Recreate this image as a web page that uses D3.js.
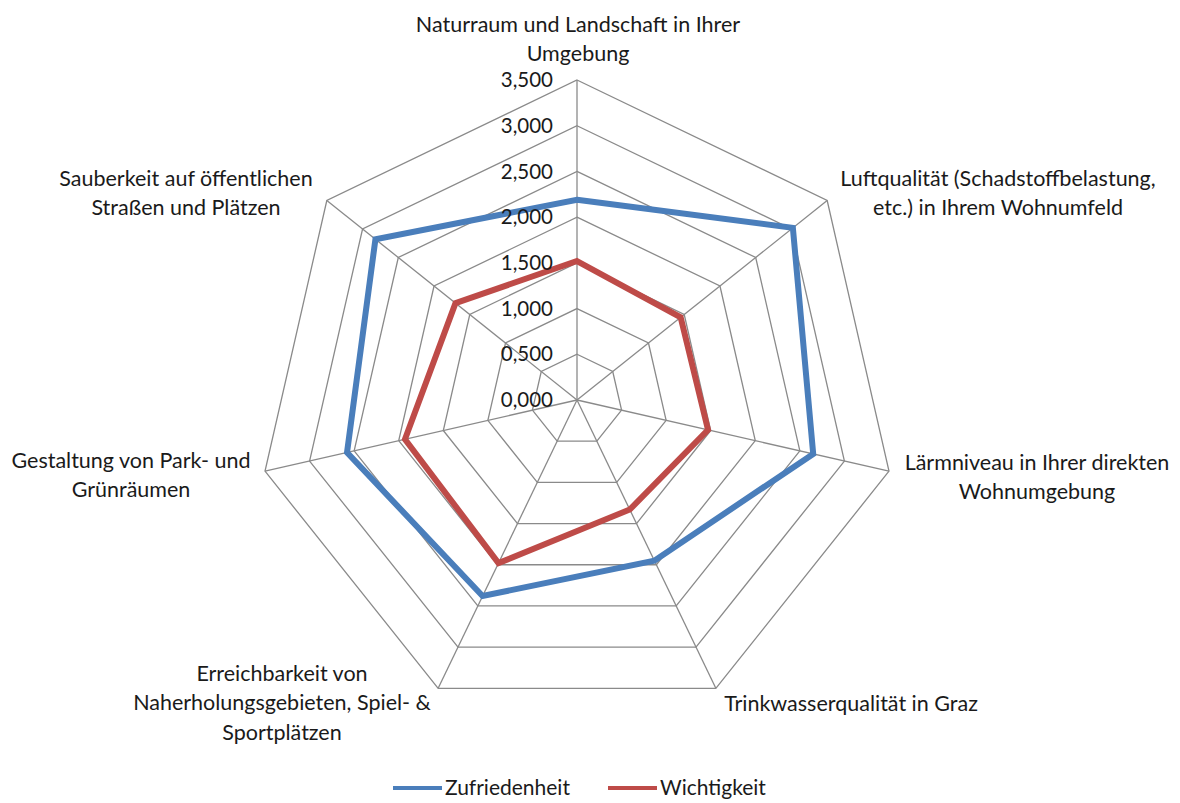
<!DOCTYPE html>
<html>
<head>
<meta charset="utf-8">
<script src="https://cdn.jsdelivr.net/npm/d3@7"></script>
<style>
  html, body { margin: 0; padding: 0; background: #fff; }
  svg text { font-family: Lato, "Open Sans", sans-serif; fill: #1a1a1a; }
</style>
</head>
<body>
<svg id="chart" width="1180" height="803"></svg>
<script>
const categories = [
  ["Naturraum und Landschaft in Ihrer", "Umgebung"],
  ["Luftqualität (Schadstoffbelastung,", "etc.) in Ihrem Wohnumfeld"],
  ["Lärmniveau in Ihrer direkten", "Wohnumgebung"],
  ["Trinkwasserqualität in Graz"],
  ["Erreichbarkeit von", "Naherholungsgebieten, Spiel- &", "Sportplätzen"],
  ["Gestaltung von Park- und", "Grünräumen"],
  ["Sauberkeit auf öffentlichen", "Straßen und Plätzen"]
];
const seriesNames = ["Zufriedenheit", "Wichtigkeit"];
const zufriedenheit = [2.19, 3.02, 2.65, 1.95, 2.38, 2.58, 2.82];
const wichtigkeit   = [1.52, 1.45, 1.47, 1.33, 1.98, 1.93, 1.70];
const tickValues = [0, 0.5, 1, 1.5, 2, 2.5, 3, 3.5];
const tickLabels = ["0,000", "0,500", "1,000", "1,500", "2,000", "2,500", "3,000", "3,500"];
const colors = ["#4a7ebb", "#be4b48"];

const svg = d3.select("#chart");
const cx = 577, cy = 400, R = 320;
const r = d3.scaleLinear().domain([0, 3.5]).range([0, R]);
const n = categories.length;
const angle = d3.scaleLinear().domain([0, n]).range([0, 2 * Math.PI]);
const pt = (i, v) => [cx + r(v) * Math.sin(angle(i)), cy - r(v) * Math.cos(angle(i))];

const g = svg.append("g");
// grid rings
tickValues.slice(1).forEach(t => {
  const pts = d3.range(n).map(i => pt(i, t));
  g.append("polygon")
    .attr("points", pts.map(p => p.join(",")).join(" "))
    .attr("fill", "none").attr("stroke", "#8a8a8a").attr("stroke-width", 1.3);
});
// spokes
d3.range(n).forEach(i => {
  const p = pt(i, 3.5);
  g.append("line").attr("x1", cx).attr("y1", cy).attr("x2", p[0]).attr("y2", p[1])
    .attr("stroke", "#8a8a8a").attr("stroke-width", 1.3);
});

// series
const line = d3.lineRadial().angle((d, i) => angle(i)).radius(d => r(d)).curve(d3.curveLinearClosed);
[zufriedenheit, wichtigkeit].forEach((s, k) => {
  svg.append("path").attr("transform", `translate(${cx},${cy})`)
    .attr("d", line(s)).attr("fill", "none")
    .attr("stroke", colors[k]).attr("stroke-width", 6).attr("stroke-linejoin", "miter");
});

// tick labels
tickValues.forEach((t, i) => {
  svg.append("text").attr("x", cx - 24).attr("y", cy - r(t)).attr("dy", "0.35em")
    .attr("text-anchor", "end").attr("font-size", 20.5).text(tickLabels[i]);
});

// category labels
const labelPos = [
  { x: 578, y: 24 }, { x: 998, y: 178 }, { x: 1037, y: 462 }, { x: 851, y: 703 },
  { x: 282, y: 673 }, { x: 131, y: 460 }, { x: 186, y: 178 }
];
categories.forEach((lines, i) => {
  const t = svg.append("text").attr("text-anchor", "middle").attr("font-size", 21.5);
  lines.forEach((l, j) => {
    t.append("tspan").attr("x", labelPos[i].x).attr("y", labelPos[i].y + j * 29.5)
      .attr("dy", "0.35em").text(l);
  });
});

// legend
const legendY = 788;
const legend = [{ x1: 393, x2: 442, tx: 445 }, { x1: 608, x2: 657, tx: 660 }];
legend.forEach((L, k) => {
  svg.append("line").attr("x1", L.x1).attr("x2", L.x2).attr("y1", legendY).attr("y2", legendY)
    .attr("stroke", colors[k]).attr("stroke-width", 4);
  svg.append("text").attr("x", L.tx).attr("y", legendY).attr("dy", "0.35em")
    .attr("font-size", 21).text(seriesNames[k]);
});
</script>
</body>
</html>
